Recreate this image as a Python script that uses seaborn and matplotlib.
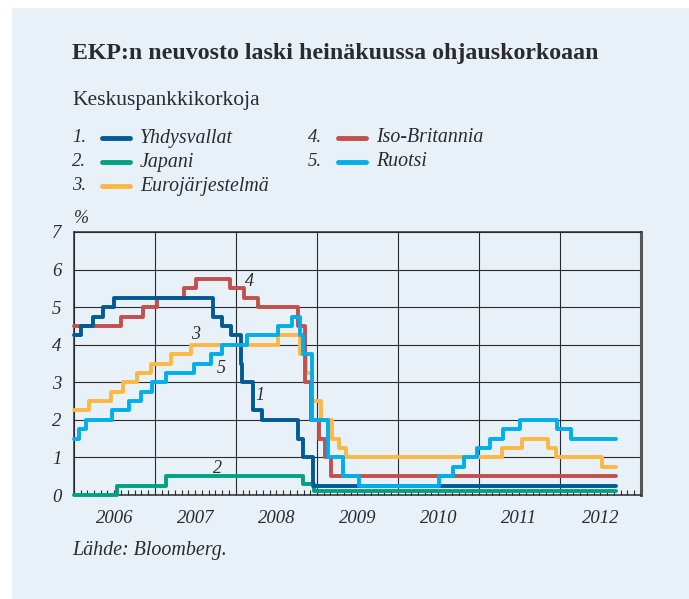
import matplotlib
matplotlib.use("Agg")
import matplotlib.pyplot as plt
import matplotlib.dates as mdates
from matplotlib.lines import Line2D
from matplotlib.patches import Rectangle
import pandas as pd
import seaborn as sns

# ohjauskorot, muutospäivät ja uudet tasot (%)
dates_usa = ["2006-01-01", "2006-01-31", "2006-03-28", "2006-05-10", "2006-06-29",
             "2007-09-18", "2007-10-31", "2007-12-11", "2008-01-22", "2008-01-30",
             "2008-03-18", "2008-04-30", "2008-10-08", "2008-10-29", "2008-12-16"]
rate_usa = [4.25, 4.50, 4.75, 5.00, 5.25,
            4.75, 4.50, 4.25, 3.50, 3.00,
            2.25, 2.00, 1.50, 1.00, 0.25]

dates_jpn = ["2006-01-01", "2006-07-14", "2007-02-21", "2008-10-31", "2008-12-19"]
rate_jpn = [0.0, 0.25, 0.50, 0.30, 0.10]

dates_eur = ["2006-01-01", "2006-03-08", "2006-06-15", "2006-08-09", "2006-10-11",
             "2006-12-13", "2007-03-14", "2007-06-13", "2008-07-09", "2008-10-15",
             "2008-11-12", "2008-12-10", "2009-01-21", "2009-03-11", "2009-04-08",
             "2009-05-13", "2011-04-13", "2011-07-13", "2011-11-09", "2011-12-14",
             "2012-07-11"]
rate_eur = [2.25, 2.50, 2.75, 3.00, 3.25,
            3.50, 3.75, 4.00, 4.25, 3.75,
            3.25, 2.50, 2.00, 1.50, 1.25,
            1.00, 1.25, 1.50, 1.25, 1.00,
            0.75]

dates_gbr = ["2006-01-01", "2006-08-03", "2006-11-09", "2007-01-11", "2007-05-10",
             "2007-07-05", "2007-12-06", "2008-02-07", "2008-04-10", "2008-10-08",
             "2008-11-06", "2008-12-04", "2009-01-08", "2009-02-05", "2009-03-05"]
rate_gbr = [4.50, 4.75, 5.00, 5.25, 5.50,
            5.75, 5.50, 5.25, 5.00, 4.50,
            3.00, 2.00, 1.50, 1.00, 0.50]

dates_swe = ["2006-01-01", "2006-01-25", "2006-02-22", "2006-06-21", "2006-09-06",
             "2006-10-31", "2006-12-20", "2007-02-21", "2007-06-27", "2007-09-12",
             "2007-11-01", "2008-02-20", "2008-07-09", "2008-09-10", "2008-10-15",
             "2008-10-29", "2008-12-10", "2009-02-18", "2009-04-29", "2009-07-08",
             "2010-07-07", "2010-09-08", "2010-10-27", "2010-12-22", "2011-02-22",
             "2011-04-20", "2011-07-06", "2011-12-21", "2012-02-22"]
rate_swe = [1.50, 1.75, 2.00, 2.25, 2.50,
            2.75, 3.00, 3.25, 3.50, 3.75,
            4.00, 4.25, 4.50, 4.75, 4.25,
            3.75, 2.00, 1.00, 0.50, 0.25,
            0.50, 0.75, 1.00, 1.25, 1.50,
            1.75, 2.00, 1.75, 1.50]

end_date = "2012-09-10"

names = ["Yhdysvallat", "Japani", "Eurojärjestelmä", "Iso-Britannia", "Ruotsi"]
colors = ["#005a96", "#00a283", "#fdb843", "#c1504e", "#00aeea"]
label_dates = ["2008-04-20", "2007-10-10", "2007-07-05", "2008-03-01", "2007-10-25"]
label_values = [2.66, 0.71, 4.26, 5.67, 3.37]
years = [2006, 2007, 2008, 2009, 2010, 2011, 2012]

series = [(dates_usa, rate_usa), (dates_jpn, rate_jpn), (dates_eur, rate_eur),
          (dates_gbr, rate_gbr), (dates_swe, rate_swe)]
frames = []
for name, (d, r) in zip(names, series):
    frames.append(pd.DataFrame({"pvm": pd.to_datetime(d + [end_date]),
                                "korko": r + [r[-1]], "maa": name}))
df = pd.concat(frames, ignore_index=True)

panel = "#e9f1f8"
ink = "#2b2b2b"

sns.set_theme(style="white")
plt.rcParams["font.family"] = ["Liberation Serif", "DejaVu Serif"]

fig = plt.figure(figsize=(6.89, 5.99), dpi=100)
fig.patch.set_facecolor("white")
fig.patches.append(Rectangle((12 / 689, 0.0), 1 - 12 / 689, 1 - 8 / 599,
                             transform=fig.transFigure, facecolor=panel,
                             edgecolor="none", zorder=-10))

ax = fig.add_axes([74 / 689, 1 - 495 / 599, (641 - 74) / 689, (495 - 232) / 599])
ax.set_facecolor(panel)

draw_order = ["Japani", "Eurojärjestelmä", "Iso-Britannia", "Yhdysvallat", "Ruotsi"]
sns.lineplot(data=df, x="pvm", y="korko", hue="maa", hue_order=draw_order,
             palette=dict(zip(names, colors)), estimator=None, sort=True,
             drawstyle="steps-post", linewidth=2.8, legend=False, ax=ax)
for ln in ax.lines:
    ln.set_clip_on(False)
    ln.set_zorder(3)

ax.set_xlim(pd.Timestamp("2006-01-01"), pd.Timestamp("2013-01-01"))
ax.set_ylim(0, 7)
ax.set_xlabel("")
ax.set_ylabel("")

ax.xaxis.set_major_locator(mdates.YearLocator())
ax.xaxis.set_minor_locator(mdates.MonthLocator())
ax.xaxis.set_major_formatter(plt.NullFormatter())
ax.tick_params(axis="x", which="both", direction="in", length=3.5, width=0.8,
               color=ink, bottom=True, top=False)
ax.set_yticks(range(0, 8))
ax.tick_params(axis="y", length=0, pad=9, labelsize=13.5, labelcolor=ink)
for t in ax.get_yticklabels():
    t.set_fontstyle("italic")
ax.grid(True, which="major", color=ink, linewidth=0.8)
ax.set_axisbelow(True)

for side in ["left", "bottom", "top"]:
    ax.spines[side].set_color(ink)
    ax.spines[side].set_linewidth(1.1)
ax.spines["right"].set_color("#555555")
ax.spines["right"].set_linewidth(2.2)

for y in years:
    ax.text(pd.Timestamp(f"{y}-07-02"), -0.09, str(y), transform=ax.get_xaxis_transform(),
            ha="center", va="center", fontsize=13.5, style="italic", color=ink)

for i, (d, v) in enumerate(zip(label_dates, label_values)):
    ax.text(pd.Timestamp(d), v, str(i + 1), ha="center", va="center",
            fontsize=13, style="italic", color=ink)

ax.text(0.0, 1.05, "%", transform=ax.transAxes, ha="left", va="center",
        fontsize=13, style="italic", color=ink)

fig.text(72 / 689, 1 - 53 / 599, "EKP:n neuvosto laski heinäkuussa ohjauskorkoaan",
         fontsize=17.2, fontweight="bold", color=ink, va="center")
fig.text(72 / 689, 1 - 100 / 599, "Keskuspankkikorkoja", fontsize=15.5, color=ink, va="center")

rows = [138, 162, 186]
legend_pos = [(72, 0), (72, 1), (72, 2), (308, 0), (308, 1)]
for i, (name, col) in enumerate(zip(names, colors)):
    x0, r = legend_pos[i]
    yy = 1 - rows[r] / 599
    fig.text(x0 / 689, yy, f"{i + 1}.", fontsize=13.5, style="italic", color=ink, va="center")
    fig.lines.append(Line2D([(x0 + 30) / 689, (x0 + 58) / 689], [yy, yy],
                            transform=fig.transFigure, color=col, linewidth=3.5,
                            solid_capstyle="round"))
    fig.text((x0 + 68) / 689, yy, name, fontsize=14.3, style="italic", color=ink, va="center")

fig.text(72 / 689, 1 - 551 / 599, "Lähde: Bloomberg.", fontsize=14.4, style="italic",
         color=ink, va="center")

fig.savefig("out.png", dpi=100)
